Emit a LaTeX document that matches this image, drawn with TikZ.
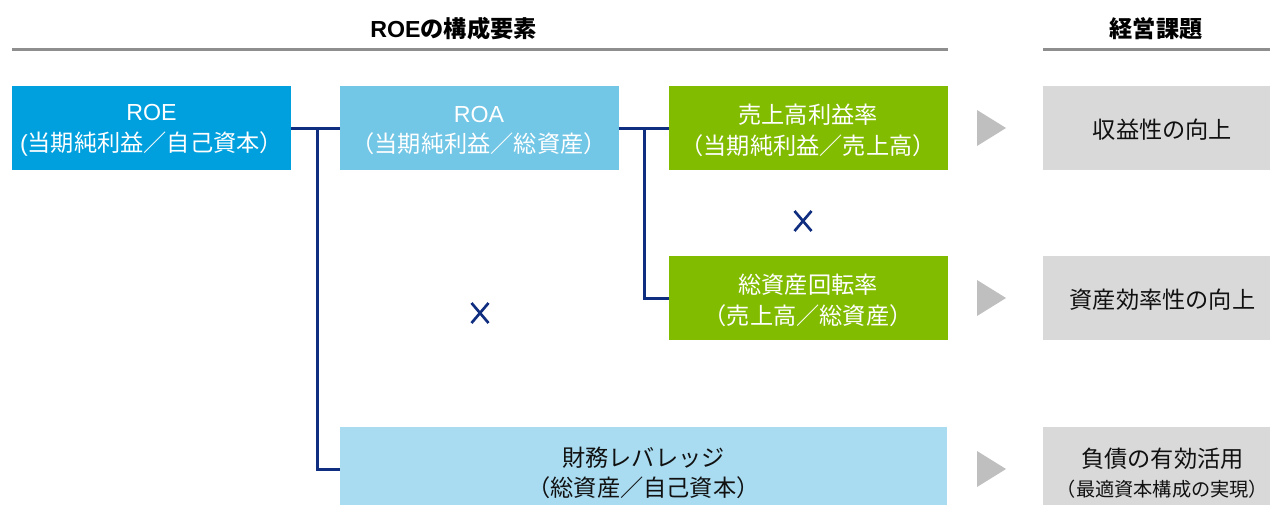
\documentclass[tikz,border=0pt]{standalone}
\usepackage{fontspec}
\setmainfont{Noto Sans CJK JP}
\newfontfamily\lat{Liberation Sans}
\definecolor{roeblue}{HTML}{00A0DE}
\definecolor{roablue}{HTML}{72C6E6}
\definecolor{levblue}{HTML}{A9DCF1}
\definecolor{kgreen}{HTML}{82BC00}
\definecolor{kgray}{HTML}{D9D9D9}
\definecolor{trigray}{HTML}{BFBFBF}
\definecolor{rulegray}{HTML}{8E8E8E}
\definecolor{navy}{HTML}{102E80}
\definecolor{ink}{HTML}{111111}
\begin{document}
\begin{tikzpicture}[x=0.75pt,y=-0.75pt,
  boxbase/.style={rectangle,inner sep=0pt,outer sep=0pt,minimum height=63pt},
  narrowbox/.style={boxbase,minimum width=209.25pt},
  widebox/.style={boxbase,minimum width=455.25pt},
  graybox/.style={boxbase,fill=kgray,minimum width=179.25pt},
  boxtext/.style={inner sep=0pt,align=center,font=\fontsize{17.4}{23}\selectfont},
  hdr/.style={inner sep=0pt,font=\fontsize{17.4}{20}\selectfont\bfseries,text=black},
  rulestyle/.style={draw=rulegray,line width=2.25pt},
  link/.style={draw=navy,line width=2.25pt},
  tri/.style={fill=trigray},
  xmark/.style={draw=navy,line width=2pt}]
\clip (0,0) rectangle (1270,504);
\fill[white] (0,0) rectangle (1270,504);
% headers
\node[hdr] (h1) at (453.5,29) {{\lat ROE}の構成要素};
\node[hdr] (h2) at (1156,29) {経営課題};
\coordinate (r1a) at (12,49); \coordinate (r1b) at (948,49);
\coordinate (r2a) at (1043,49); \coordinate (r2b) at (1272,49);
\path[rulestyle] (r1a) -- (r1b);
\path[rulestyle] (r2a) -- (r2b);
% boxes
\node[narrowbox,fill=roeblue] (roe) at (151.5,128) {};
\node[narrowbox,fill=roablue] (roa) at (479,128) {};
\node[narrowbox,fill=kgreen] (sales) at (808,128) {};
\node[narrowbox,fill=kgreen] (turn) at (808,298) {};
\node[widebox,fill=levblue] (lev) at (643.5,469) {};
\node[boxtext,text=white] (roet) at (151.5,130.5) {{\lat ROE}\\{\lat(}当期純利益／自己資本）};
\node[boxtext,text=white] (roat) at (479,130.5) {{\lat ROA}\\（当期純利益／総資産）};
\node[boxtext,text=white] (salest) at (808,130.5) {売上高利益率\\（当期純利益／売上高）};
\node[boxtext,text=white] (turnt) at (808,300.5) {総資産回転率\\（売上高／総資産）};
\node[boxtext,text=ink] (levt) at (643.5,473) {財務レバレッジ\\（総資産／自己資本）};
% right column
\node[graybox] (g1) at (1162.5,128) {};
\node[graybox] (g2) at (1162.5,298) {};
\node[graybox] (g3) at (1162.5,469) {};
\node[boxtext,text=ink] (g1t) at (1162.5,130) {収益性の向上};
\node[boxtext,text=ink] (g2t) at (1162.5,300) {資産効率性の向上};
\node[boxtext,text=ink] (g3t) at (1162.5,473) {負債の有効活用\\[-1pt]{\fontsize{14.4}{16}\selectfont （最適資本構成の実現）}};
% triangles
\fill[tri] (977,110) -- (1006,128) -- (977,146) -- cycle;
\fill[tri] (977,280) -- (1006,298) -- (977,316) -- cycle;
\fill[tri] (977,451) -- (1006,469) -- (977,487) -- cycle;
% connectors
\coordinate (j1) at (317,128);
\coordinate (j2) at (644,127);
\path[link] (roe.east) -- (roa.west);
\path[link] (j1) |- (lev.west);
\path[link] (roa.east) -- (sales.west);
\path[link] (j2) |- (turn.west);
% multiplication marks
\path[xmark] (794.5,211) -- (811.5,231) (811.5,211) -- (794.5,231);
\path[xmark] (471.5,303) -- (488.5,323) (488.5,303) -- (471.5,323);
\end{tikzpicture}
\end{document}
